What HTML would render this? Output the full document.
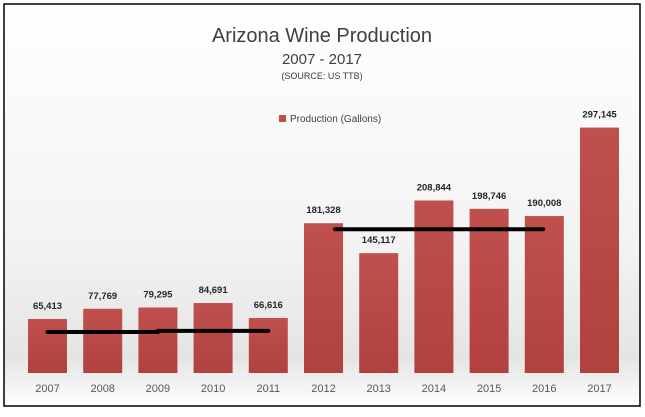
<!DOCTYPE html>
<html><head><meta charset="utf-8"><style>
body{margin:0;width:645px;height:412px;background:#fff;overflow:hidden;font-family:"Liberation Sans",sans-serif}
</style></head><body>
<svg width="645" height="412" xmlns="http://www.w3.org/2000/svg">
<defs>
<linearGradient id="bg" x1="0" y1="0" x2="0" y2="1"><stop offset="0" stop-color="#ffffff"/><stop offset="0.6" stop-color="#f3f3f3"/><stop offset="0.88" stop-color="#e4e4e4"/><stop offset="1" stop-color="#ffffff"/></linearGradient>
<linearGradient id="bar" x1="0" y1="0" x2="0" y2="1"><stop offset="0" stop-color="#c0504d"/><stop offset="1" stop-color="#b0413e"/></linearGradient>
</defs>
<rect x="4" y="4" width="636" height="402" fill="url(#bg)" stroke="#000" stroke-width="1.5"/>
<text x="322" y="42" text-anchor="middle" font-size="20" fill="#404040">Arizona Wine Production</text>
<text x="322" y="64" text-anchor="middle" font-size="15" fill="#404040">2007 - 2017</text>
<text x="322" y="79" text-anchor="middle" font-size="9" fill="#404040">(SOURCE: US TTB)</text>
<rect x="279" y="115" width="7" height="7" fill="#c0504d"/>
<text x="290" y="122" font-size="10" fill="#404040">Production (Gallons)</text>
<g id="bars"></g>
<g id="lines"></g>
</svg>
<script>
const categories=["2007","2008","2009","2010","2011","2012","2013","2014","2015","2016","2017"];
const values=[65413,77769,79295,84691,66616,181328,145117,208844,198746,190008,297145];
const labels=["65,413","77,769","79,295","84,691","66,616","181,328","145,117","208,844","198,746","190,008","297,145"];
const avgLines=[{from:0,to:2,v:49600},{from:2,to:4,v:51000},{from:5.21,to:8.98,v:174000}];
const NS="http://www.w3.org/2000/svg";
const base=373, k=0.000826, x0=28, pitch=55.2, bw=39;
const y=v=>base-v*k;
const xc=i=>x0+bw/2+i*pitch;
const gb=document.getElementById('bars'), gl=document.getElementById('lines');
function mk(tag,a){const e=document.createElementNS(NS,tag);for(const n in a)e.setAttribute(n,a[n]);return e;}
values.forEach((v,i)=>{
 const r=mk('rect',{x:xc(i)-bw/2,y:y(v),width:bw,height:base-y(v),fill:'url(#bar)'});
 
 
 gb.appendChild(r);
 const t=mk('text',{x:xc(i),y:y(v)-10,'text-anchor':'middle','font-size':'9.5','font-weight':'bold',fill:'#262626'});
 t.textContent=labels[i];
 
 
 gb.appendChild(t);
 const c=mk('text',{x:xc(i),y:392,'text-anchor':'middle','font-size':'11',fill:'#595959'});
 c.textContent=categories[i];
 
 
 gb.appendChild(c);
});
avgLines.forEach((l,i)=>{
 const ln=mk('line',{x1:xc(l.from),x2:xc(l.to),y1:y(l.v),y2:y(l.v),stroke:'#000','stroke-width':4,'stroke-linecap':'round'});
 
 
 gl.appendChild(ln);
});
</script>
</body></html>
